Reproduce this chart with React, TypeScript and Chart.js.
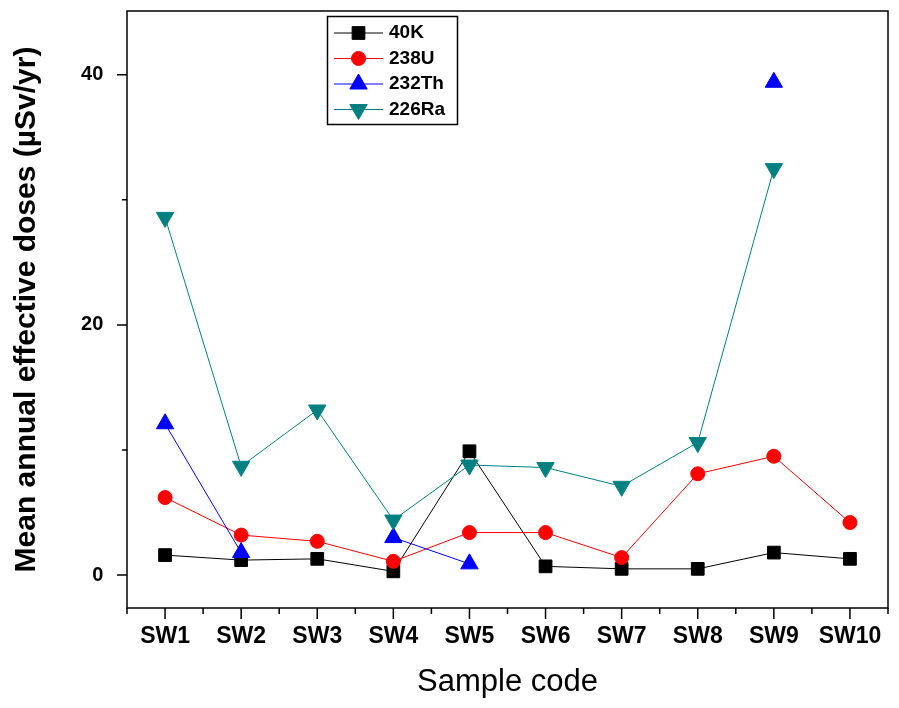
import React, { useEffect, useRef } from 'react';
import { Chart, registerables } from 'chart.js';
import { drawPoint } from 'chart.js/helpers';

Chart.register(...registerables);

const categories = ['SW1', 'SW2', 'SW3', 'SW4', 'SW5', 'SW6', 'SW7', 'SW8', 'SW9', 'SW10'];
const k40 = [1.6, 1.2, 1.3, 0.3, 9.9, 0.7, 0.5, 0.5, 1.8, 1.3];
const u238 = [6.2, 3.2, 2.7, 1.1, 3.4, 3.4, 1.4, 8.1, 9.5, 4.2];
const th232 = [12.1, 1.8, null, 3.0, 0.9, null, null, null, 39.4, null];
const ra226 = [28.6, 8.7, 13.2, 4.4, 8.8, 8.6, 7.1, 10.6, 32.5, null];
const yTickValues = [0, 10, 20, 30, 40];
const yLabelValues = [0, 20, 40];

const FONT = "'Liberation Sans', Arial, Helvetica, sans-serif";

const decorPlugin = {
  id: 'decor',
  afterDraw(chart: any) {
    const ctx = chart.ctx;
    const { left, right, top, bottom } = chart.chartArea;
    const xs = chart.scales.x;
    const ys = chart.scales.y;
    ctx.save();
    ctx.strokeStyle = '#000';
    ctx.lineWidth = 1.5;
    ctx.strokeRect(left, top, right - left, bottom - top);
    ctx.beginPath();
    const n = xs.ticks.length;
    for (let i = 0; i < n; i++) {
      const px = xs.getPixelForTick(i);
      ctx.moveTo(px, bottom);
      ctx.lineTo(px, bottom + 11);
    }
    for (let i = 0; i <= n; i++) {
      let px;
      if (i === 0) px = left;
      else if (i === n) px = right;
      else px = (xs.getPixelForTick(i - 1) + xs.getPixelForTick(i)) / 2;
      ctx.moveTo(px, bottom);
      ctx.lineTo(px, bottom + 6);
    }
    ys.ticks.forEach((t: any) => {
      const py = ys.getPixelForValue(t.value);
      const len = yLabelValues.includes(t.value) ? 10 : 5;
      ctx.moveTo(left, py);
      ctx.lineTo(left - len, py);
    });
    ctx.stroke();

    // legend
    ctx.lineWidth = 1.5;
    ctx.strokeStyle = '#000';
    ctx.strokeRect(327.5, 16.5, 130, 108);
    chart.data.datasets.forEach((ds: any, i: number) => {
      const y = 33 + i * 25.5;
      ctx.beginPath();
      ctx.strokeStyle = ds.borderColor;
      ctx.lineWidth = 1;
      ctx.moveTo(334, y);
      ctx.lineTo(383, y);
      ctx.stroke();
      ctx.fillStyle = ds.backgroundColor;
      ctx.strokeStyle = ds.borderColor;
      ctx.lineWidth = 1;
      drawPoint(ctx, {
        pointStyle: ds.pointStyle,
        rotation: ds.pointRotation || 0,
        radius: ds.pointRadius,
        borderWidth: 1,
      } as any, 358.5, y);
      ctx.fillStyle = '#000';
      ctx.font = `bold 19px ${FONT}`;
      ctx.textAlign = 'left';
      ctx.textBaseline = 'middle';
      ctx.fillText(ds.label, 389, y);
    });
    ctx.restore();
  },
};

export default function App() {
  const ref = useRef<HTMLCanvasElement | null>(null);
  useEffect(() => {
    if (!ref.current) return;
    const chart = new Chart(ref.current, {
      type: 'line',
      data: {
        labels: categories,
        datasets: [
          {
            label: '40K', data: k40, borderColor: '#000000', backgroundColor: '#000000',
            pointStyle: 'rect', pointRadius: 9, pointBorderWidth: 1, borderWidth: 1, order: 4,
          },
          {
            label: '238U', data: u238, borderColor: '#ff0000', backgroundColor: '#ff0000',
            pointStyle: 'circle', pointRadius: 7, pointBorderWidth: 1, borderWidth: 1, order: 3,
          },
          {
            label: '232Th', data: th232, borderColor: '#0000ff', backgroundColor: '#0000ff',
            pointStyle: 'triangle', pointRadius: 10, pointBorderWidth: 1, borderWidth: 1, order: 2,
          },
          {
            label: '226Ra', data: ra226, borderColor: '#008080', backgroundColor: '#008080',
            pointStyle: 'triangle', pointRotation: 180, pointRadius: 10, pointBorderWidth: 1, borderWidth: 1, order: 1,
          },
        ] as any,
      },
      options: {
        responsive: false,
        animation: false,
        spanGaps: false,
        events: [],
        layout: { padding: { left: 0, right: 2, top: 8, bottom: 0 } },
        plugins: { legend: { display: false }, tooltip: { enabled: false } },
        elements: { line: { tension: 0 } },
        scales: {
          x: {
            type: 'category',
            offset: true,
            grid: { display: false, tickLength: 11 },
            border: { display: false },
            ticks: { color: '#000', padding: 4, font: { family: FONT, size: 23, weight: 'bold' } },
            title: {
              display: true, text: 'Sample code', color: '#000',
              font: { family: FONT, size: 31, weight: 'normal' }, padding: { top: 0, bottom: 7 },
            },
            afterFit: (s: any) => { s.height = 100; s.paddingLeft = 0; s.paddingRight = 0; },
          },
          y: {
            type: 'linear',
            min: -2.63,
            max: 45.1,
            grid: { display: false, tickLength: 10 },
            border: { display: false },
            afterBuildTicks: (s: any) => { s.ticks = yTickValues.map((v) => ({ value: v })); },
            ticks: {
              color: '#000', padding: 13.7,
              font: { family: FONT, size: 20, weight: 'bold' },
              callback: (v: any) => (yLabelValues.includes(Number(v)) ? String(v) : ''),
            },
            title: {
              display: true, text: 'Mean annual effective doses (µSv/yr)', color: '#000',
              font: { family: FONT, size: 30, weight: 'bold' }, padding: { top: 9, bottom: 0 },
            },
            afterFit: (s: any) => { s.width = 127; s.paddingTop = 0; s.paddingBottom = 0; },
          },
        },
      } as any,
      plugins: [decorPlugin],
    });
    return () => chart.destroy();
  }, []);
  return (
    <div style={{ position: 'absolute', left: 0, top: 0, width: 899, height: 708, background: '#fff' }}>
      <canvas ref={ref} width={899} height={708} />
    </div>
  );
}
